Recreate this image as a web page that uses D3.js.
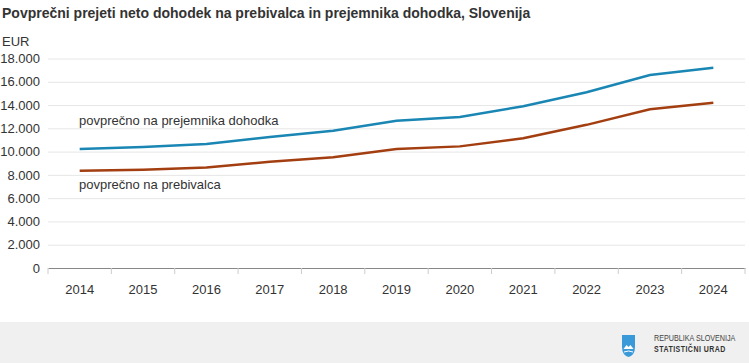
<!DOCTYPE html>
<html>
<head>
<meta charset="utf-8">
<script src="https://cdn.jsdelivr.net/npm/d3@7"></script>
<style>
  body { margin: 0; background: #fff; }
  svg { display: block; font-family: "Liberation Sans", Arial, sans-serif; }
</style>
</head>
<body>
<div id="vis"></div>
<script>
// data
const YEARS = ["2014", "2015", "2016", "2017", "2018", "2019", "2020", "2021", "2022", "2023", "2024"];
const PER_RECIPIENT = [10220, 10400, 10650, 11250, 11800, 12650, 12970, 13900, 15100, 16580, 17210];
const PER_RESIDENT = [8360, 8440, 8640, 9130, 9520, 10230, 10450, 11150, 12300, 13640, 14200];
const Y_TICKS = [0, 2000, 4000, 6000, 8000, 10000, 12000, 14000, 16000, 18000];

const FRAME_WIDTH = 749;
const FRAME_HEIGHT = 363;
const MARGINS = {left: 48, right: 4, top: 58.5, bottom: 95};

const FRAME = d3.select("#vis")
                .append("svg")
                  .attr("width", FRAME_WIDTH)
                  .attr("height", FRAME_HEIGHT);

// scales
const X_SCALE = d3.scaleBand()
                  .domain(YEARS)
                  .range([MARGINS.left, FRAME_WIDTH - MARGINS.right]);

const Y_SCALE = d3.scaleLinear()
                  .domain([0, 18000])
                  .range([FRAME_HEIGHT - MARGINS.bottom, MARGINS.top]);

const fmt = (v) => d3.format(",")(v).replace(/,/g, ".");

// title
FRAME.append("text")
      .attr("x", 2)
      .attr("y", 18)
      .attr("font-size", "14px")
      .attr("font-weight", "bold")
      .attr("fill", "#333")
      .text("Povprečni prejeti neto dohodek na prebivalca in prejemnika dohodka, Slovenija");

FRAME.append("text")
      .attr("x", 2)
      .attr("y", 46)
      .attr("font-size", "13px")
      .attr("fill", "#333")
      .text("EUR");

// gridlines + y labels
const yAxis = FRAME.append("g")
      .attr("transform", "translate(" + MARGINS.left + ",0)")
      .call(d3.axisLeft(Y_SCALE)
              .tickValues(Y_TICKS)
              .tickFormat(fmt)
              .tickSize(-(FRAME_WIDTH - MARGINS.left - MARGINS.right))
              .tickPadding(8));
yAxis.select(".domain").remove();
yAxis.selectAll(".tick line").attr("stroke", "#e6e6e6");
yAxis.selectAll(".tick text")
      .attr("font-size", "13px")
      .attr("fill", "#333")
      .attr("font-family", "Liberation Sans, Arial, sans-serif");

// x axis
const xAxis = FRAME.append("g")
      .attr("transform", "translate(0," + Y_SCALE(0) + ")")
      .call(d3.axisBottom(X_SCALE).tickSize(0).tickPadding(17));
xAxis.select(".domain").attr("stroke", "#888");
xAxis.selectAll(".tick text")
      .attr("font-size", "13px")
      .attr("fill", "#333")
      .attr("font-family", "Liberation Sans, Arial, sans-serif");

// tick marks at band edges
const edges = YEARS.map((d) => X_SCALE(d)).concat([X_SCALE.range()[1]]);
FRAME.selectAll(".edge")
      .data(edges)
      .enter()
      .append("line")
        .attr("x1", (d) => d)
        .attr("x2", (d) => d)
        .attr("y1", Y_SCALE(0))
        .attr("y2", Y_SCALE(0) + 6)
        .attr("stroke", "#ccc");

// lines
const line = d3.line()
                .x((d, i) => X_SCALE(YEARS[i]) + X_SCALE.bandwidth() / 2)
                .y((d) => Y_SCALE(d));

FRAME.append("path")
      .datum(PER_RECIPIENT)
      .attr("d", line)
      .attr("fill", "none")
      .attr("stroke", "#1a86b4")
      .attr("stroke-width", 2.5);

FRAME.append("path")
      .datum(PER_RESIDENT)
      .attr("d", line)
      .attr("fill", "none")
      .attr("stroke", "#a33e10")
      .attr("stroke-width", 2.5);

// series labels
FRAME.append("text")
      .attr("x", 79)
      .attr("y", 125)
      .attr("font-size", "13px")
      .attr("fill", "#333")
      .text("povprečno na prejemnika dohodka");

FRAME.append("text")
      .attr("x", 79)
      .attr("y", 189)
      .attr("font-size", "13px")
      .attr("fill", "#333")
      .text("povprečno na prebivalca");

// footer
FRAME.append("rect")
      .attr("x", 0)
      .attr("y", 322)
      .attr("width", FRAME_WIDTH)
      .attr("height", FRAME_HEIGHT - 322)
      .attr("fill", "#f0f0f0");

const LOGO = FRAME.append("g").attr("transform", "translate(622,335)");
LOGO.append("path")
      .attr("d", "M0,0 L13,0 L13,12 Q13,20 6.5,22 Q0,20 0,12 Z")
      .attr("fill", "#3a9ad9");
LOGO.append("path")
      .attr("d", "M1.5,14 L4.5,10 L6.5,12 L8.5,10 L11.5,14 Z")
      .attr("fill", "#fff");
LOGO.append("path")
      .attr("d", "M2,17 Q6.5,15 11,17")
      .attr("fill", "none")
      .attr("stroke", "#fff")
      .attr("stroke-width", 1);

// condensed agency name (no narrow font installed, so squeeze horizontally)
FRAME.append("text")
      .attr("transform", "translate(654,341) scale(0.8,1)")
      .attr("font-size", "9px")
      .attr("fill", "#444")
      .text("REPUBLIKA SLOVENIJA");

FRAME.append("text")
      .attr("transform", "translate(654,352) scale(0.78,1)")
      .attr("font-size", "9px")
      .attr("font-weight", "bold")
      .attr("letter-spacing", "0.6px")
      .attr("fill", "#333")
      .text("STATISTIČNI URAD");
</script>
</body>
</html>
